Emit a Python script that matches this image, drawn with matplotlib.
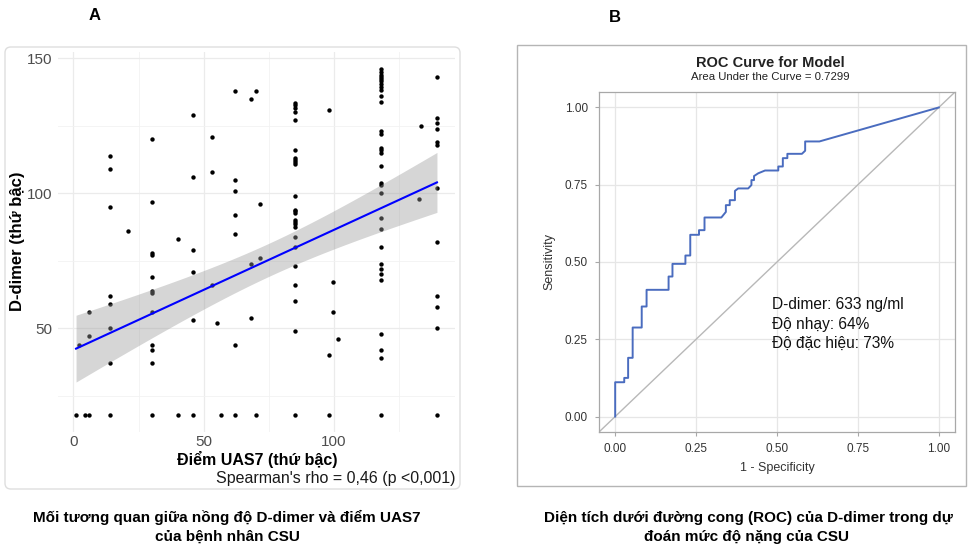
import numpy as np
import matplotlib
matplotlib.use("Agg")
import matplotlib.pyplot as plt
from matplotlib.patches import FancyBboxPatch, Rectangle

plt.rcParams["font.family"] = ["Liberation Sans", "DejaVu Sans"]

W, H = 968, 546

# ---- panel A: rank of UAS7 vs rank of D-dimer (points grouped by tied UAS7 rank)
# the lowest D-dimer rank (18) is a large tie group, so several dots overlap there
uas7_cols = [1, 2, 4.5, 6, 14, 21, 30, 40, 46, 53, 55, 56.5, 62, 68, 70, 71.5,
             85, 98, 99.5, 101.5, 118, 132.5, 133.5, 139.5]
ddimer_by_col = [
    [18],
    [44],
    [18, 18, 18],
    [56, 47, 18, 18],
    [114, 109, 95, 62, 59, 50, 37, 18, 18, 18, 18, 18],
    [86],
    [120, 97, 78, 77, 69, 64, 63, 56, 44, 42, 37, 18, 18, 18, 18, 18],
    [83, 18, 18],
    [129, 106, 79, 71, 53, 18, 18, 18, 18],
    [121, 108, 66],
    [52],
    [18],
    [138, 105, 101, 92, 85, 44, 18, 18, 18],
    [135, 74, 54],
    [138, 18],
    [96, 76],
    [133.5, 132.6, 131.7, 130.2, 127.2, 116, 113.3, 112.5, 111.6, 110.9, 99, 94,
     93.4, 92.6, 90, 89.3, 88.6, 87.7, 84, 80, 73, 66, 60, 49, 18],
    [131, 40, 18],
    [67, 56],
    [46],
    [146, 145, 144, 143, 142.5, 141.5, 140.5, 139.5, 138.5, 136, 134, 123, 122,
     117, 116, 115, 110, 104, 103, 100, 91, 87, 80, 74, 72, 70, 68, 48, 42, 39,
     18, 18, 18],
    [98],
    [125],
    [143, 128, 126, 124, 119, 118, 102, 82, 62, 58, 50, 18, 18, 18],
]
spearman_text = "Spearman's rho = 0,46 (p <0,001)"

# ---- panel B: ROC curve
fpr = [0, 0, 0.028, 0.028, 0.04, 0.04, 0.054, 0.054, 0.082, 0.082, 0.097, 0.097,
       0.165, 0.165, 0.177, 0.177, 0.217, 0.217, 0.232, 0.232, 0.259, 0.259,
       0.276, 0.276, 0.328, 0.342, 0.342, 0.354, 0.354, 0.37, 0.37, 0.38, 0.411,
       0.421, 0.421, 0.429, 0.429, 0.442, 0.463, 0.504, 0.504, 0.518, 0.518,
       0.532, 0.532, 0.577, 0.587, 0.587, 0.631, 1.0]
tpr = [0, 0.111, 0.111, 0.125, 0.125, 0.19, 0.19, 0.288, 0.288, 0.356, 0.356, 0.41,
       0.41, 0.453, 0.453, 0.494, 0.494, 0.521, 0.521, 0.588, 0.588, 0.603,
       0.603, 0.644, 0.644, 0.662, 0.684, 0.684, 0.70, 0.70, 0.73, 0.738, 0.738,
       0.749, 0.765, 0.765, 0.778, 0.787, 0.796, 0.796, 0.809, 0.809, 0.836,
       0.836, 0.85, 0.85, 0.86, 0.89, 0.89, 1.0]
auc = 0.7299
cutoff_lines = ["D-dimer: 633 ng/ml", "Độ nhạy: 64%", "Độ đặc hiệu: 73%"]


def fig_rect(x0, y0, x1, y1):
    # pixel box (top-left origin) -> figure fraction [l, b, w, h]
    return [x0 / W, 1 - y1 / H, (x1 - x0) / W, (y1 - y0) / H]


fig = plt.figure(figsize=(W / 100, H / 100), dpi=100)
fig.patch.set_facecolor("white")

# frames around the two panels
fig.patches.append(FancyBboxPatch((5 / W, 1 - 489 / H), 455 / W, 442 / H,
                                  boxstyle="round,pad=0,rounding_size=0.006",
                                  mutation_aspect=W / H, transform=fig.transFigure,
                                  fill=False, edgecolor="#dedede", lw=1.0))
fig.patches.append(Rectangle((517 / W, 1 - 486 / H), 449 / W, 441 / H,
                             transform=fig.transFigure, fill=False,
                             edgecolor="#b5b5b5", lw=1.0))

# ================= panel A =================
x = np.concatenate([[c] * len(v) for c, v in zip(uas7_cols, ddimer_by_col)]).astype(float)
y = np.concatenate(ddimer_by_col).astype(float)

ax = fig.add_axes(fig_rect(58, 52, 455, 432))
xr = x.max() - x.min()
yr = y.max() - y.min()
ax.set_xlim(x.min() - 0.05 * xr, x.max() + 0.05 * xr)
ax.set_ylim(y.min() - 0.05 * yr, y.max() + 0.05 * yr)

ax.set_xticks([0, 50, 100])
ax.set_yticks([50, 100, 150])
ax.set_xticks([25, 75, 125], minor=True)
ax.set_yticks([25, 75, 125], minor=True)
ax.grid(True, which="major", color="#ebebeb", lw=0.9)
ax.grid(True, which="minor", color="#f2f2f2", lw=0.6)
ax.set_axisbelow(True)
for s in ax.spines.values():
    s.set_visible(False)
ax.tick_params(which="both", length=0, labelsize=11, labelcolor="#4d4d4d")
ax.tick_params(axis="x", pad=2)
ax.tick_params(axis="y", pad=4)

# tied points sit on top of each other: draw each position once
pts = np.unique(np.column_stack([x, y]), axis=0)
ax.scatter(pts[:, 0], pts[:, 1], s=10, color="black", zorder=2, linewidths=0)

# linear fit + 95% band
b1, b0 = np.polyfit(x, y, 1)
xs = np.linspace(x.min(), x.max(), 100)
yhat = b0 + b1 * xs
n = len(x)
resid = y - (b0 + b1 * x)
s_err = np.sqrt(np.sum(resid ** 2) / (n - 2))
se = s_err * np.sqrt(1 / n + (xs - x.mean()) ** 2 / np.sum((x - x.mean()) ** 2))
t = 1.98
ax.fill_between(xs, yhat - t * se, yhat + t * se, color="#999999", alpha=0.4,
                lw=0, zorder=3)
ax.plot(xs, yhat, color="#0000ff", lw=1.5, zorder=4)

fig.text(257 / W, 1 - 460 / H, "Điểm UAS7 (thứ bậc)", ha="center", va="center",
         fontsize=11.5, fontweight="bold")
fig.text(18 / W, 1 - 241 / H, "D-dimer (thứ bậc)", ha="center", va="center",
         rotation=90, fontsize=12, fontweight="bold")
fig.text(455 / W, 1 - 479 / H, spearman_text, ha="right", va="center",
         fontsize=11.5, color="#1a1a1a")

# ================= panel B =================
bx = fig.add_axes(fig_rect(599, 92, 955, 432))
bx.set_xlim(-0.05, 1.05)
bx.set_ylim(-0.05, 1.05)
ticks = [0, 0.25, 0.5, 0.75, 1.0]
bx.set_xticks(ticks)
bx.set_yticks(ticks)
bx.set_xticklabels([f"{v:.2f}" for v in ticks])
bx.set_yticklabels([f"{v:.2f}" for v in ticks])
bx.grid(True, color="#e6e6e6", lw=0.9)
bx.set_axisbelow(True)
for s in bx.spines.values():
    s.set_color("#a8a8a8")
    s.set_linewidth(0.9)
bx.tick_params(length=3, color="#a8a8a8", labelsize=8.5, labelcolor="#333333", pad=5)

bx.axline((0, 0), slope=1, color="#b8b8b8", lw=1.0, zorder=2)
bx.plot(fpr, tpr, color="#4a6cbf", lw=1.4, zorder=3)

bx.set_xlabel("1 - Specificity", fontsize=9, color="#333333", labelpad=5)
bx.set_ylabel("Sensitivity", fontsize=9, color="#333333", labelpad=7)

fig.text(770 / W, 1 - 63 / H, "ROC Curve for Model", ha="center", va="center",
         fontsize=10.5, fontweight="bold", color="#222222")
fig.text(770 / W, 1 - 77 / H, f"Area Under the Curve = {auc:.4f}", ha="center",
         va="center", fontsize=8.2, color="#222222")

for i, line in enumerate(cutoff_lines):
    fig.text(772 / W, 1 - (305 + 19 * i) / H, line, ha="left", va="center",
             fontsize=11.2, color="#111111")

# ================= labels & captions =================
fig.text(95 / W, 1 - 15 / H, "A", ha="center", va="center", fontsize=12,
         fontweight="bold")
fig.text(615 / W, 1 - 17 / H, "B", ha="center", va="center", fontsize=12,
         fontweight="bold")

fig.text(227 / W, 1 - 517 / H, "Mối tương quan giữa nồng độ D-dimer và điểm UAS7",
         ha="center", va="center", fontsize=11, fontweight="bold")
fig.text(227 / W, 1 - 537 / H, "của bệnh nhân CSU", ha="center", va="center",
         fontsize=11, fontweight="bold")
fig.text(748 / W, 1 - 518 / H, "Diện tích dưới đường cong (ROC) của D-dimer trong dự",
         ha="center", va="center", fontsize=11, fontweight="bold")
fig.text(747 / W, 1 - 537 / H, "đoán mức độ nặng của CSU", ha="center",
         va="center", fontsize=11, fontweight="bold")

fig.savefig("out.png", dpi=100, facecolor="white")
